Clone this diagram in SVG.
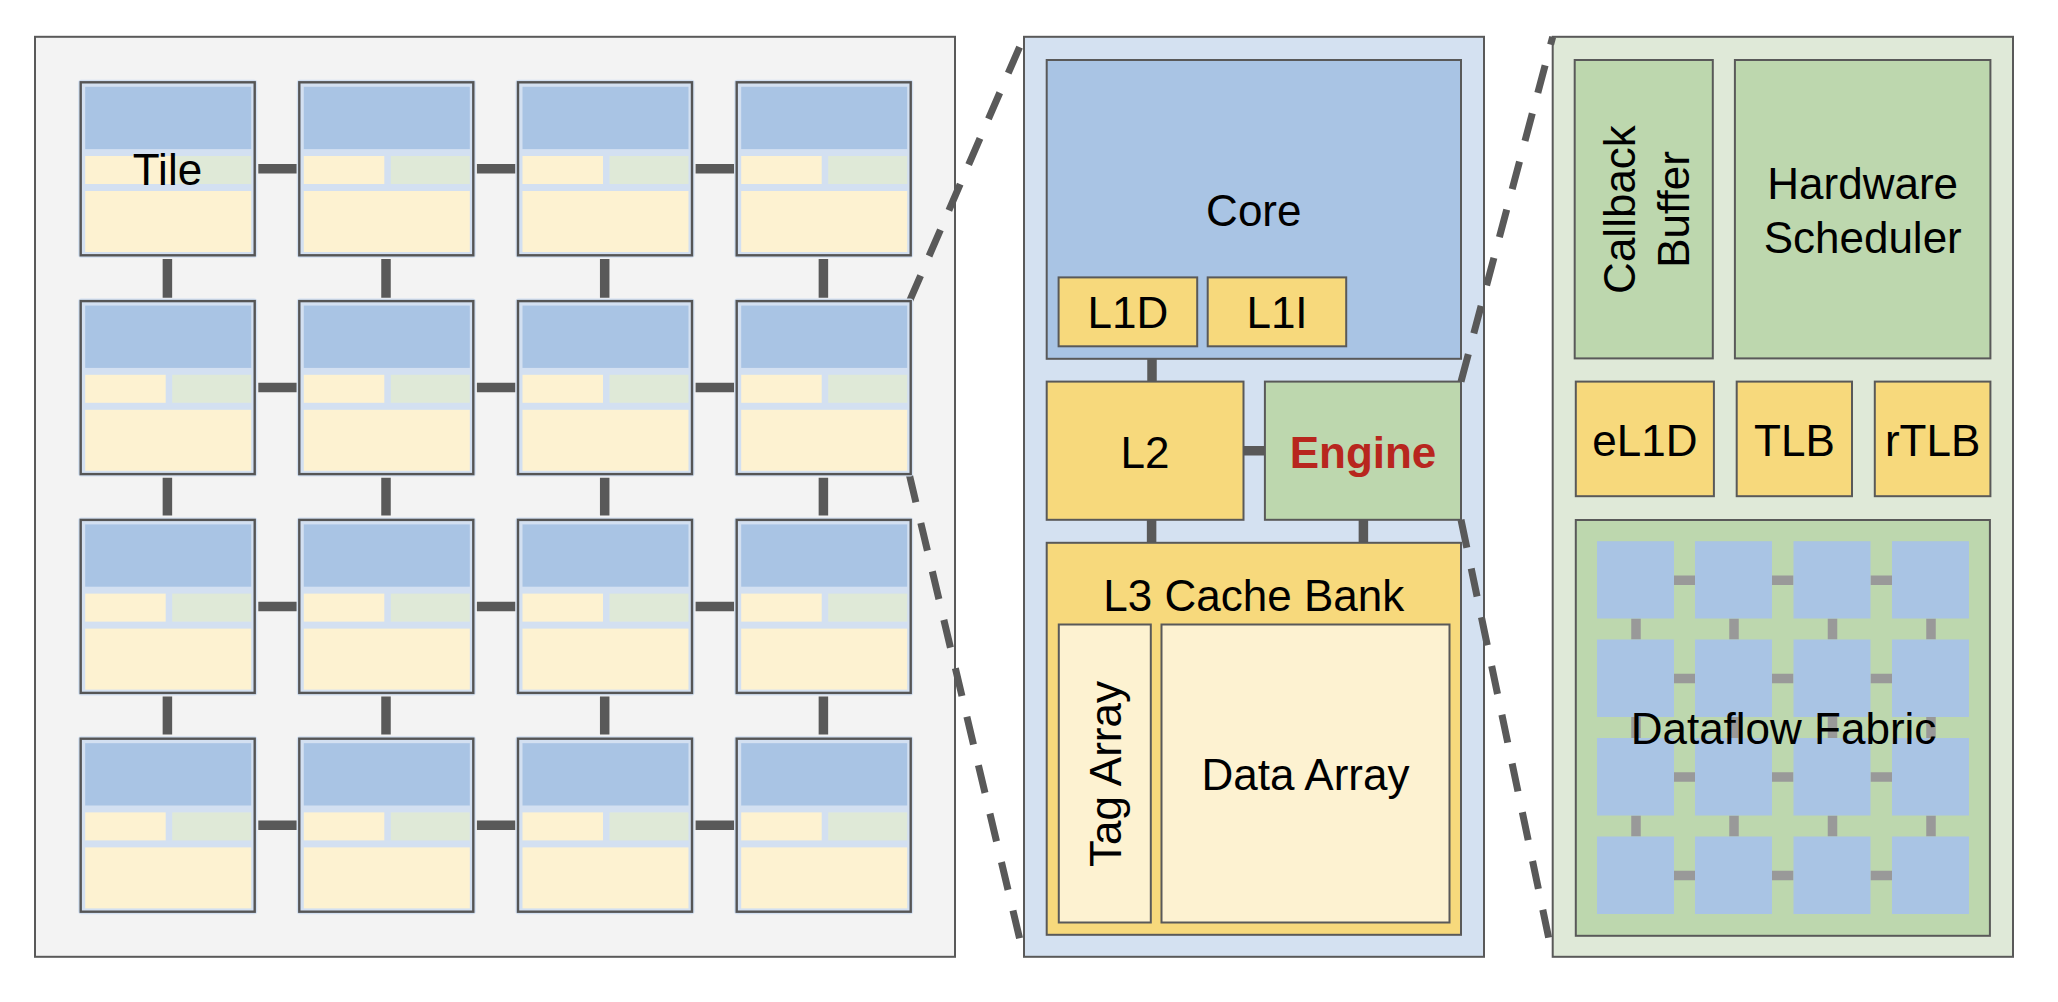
<svg xmlns="http://www.w3.org/2000/svg" xmlns:xlink="http://www.w3.org/1999/xlink" width="2058" height="1002" viewBox="0 0 2058 1002">
<style>
.panel{stroke:#595959;stroke-width:2}
.box{stroke:#595959;stroke-width:2}
.blue{fill:#a9c4e4}
.yel{fill:#f7d97c}
.ltyel{fill:#fdf2d1}
.grn{fill:#bdd7ae}
.lbl{font-family:"Liberation Sans",Arial,Helvetica,sans-serif;font-size:44px;fill:#000;text-anchor:middle}
.eng{font-weight:bold;fill:#b8261e}
.bar{stroke:#595959;stroke-width:9.5;fill:none}
.fbar{stroke:#999999;stroke-width:9.5;fill:none}
.dash{stroke:#595959;stroke-width:7;fill:none;stroke-dasharray:28.5 21.3}
</style>
<defs>
<g id="tile">
<rect x="-2.5" y="-2.5" width="179" height="178" rx="3" fill="#d3e0f1"/>
<rect x="0" y="0" width="174" height="173" fill="#d3e0f1" stroke="#555555" stroke-width="2.4"/>
<rect x="4.5" y="4.5" width="166" height="62.3" fill="#a9c4e4"/>
<rect x="4.5" y="73.7" width="80.5" height="28" fill="#fdf2d1"/>
<rect x="91.5" y="73.7" width="79" height="28" fill="#dfe9d7"/>
<rect x="4.5" y="108.7" width="166" height="61" fill="#fdf2d1"/>
</g>
</defs>
<rect width="2058" height="1002" fill="#ffffff"/>

<g id="panel-grid">
<rect class="panel" x="35" y="36.8" width="920" height="920" fill="#f3f3f3"/>
</g>
<g id="panel-tile">
<rect class="panel" x="1024" y="36.8" width="460" height="920" fill="#d4e1f1"/>
</g>
<g id="panel-engine">
<rect class="panel" x="1552.7" y="36.8" width="460.3" height="920" fill="#dfe9d8"/>
</g>

<g id="connectors">
<g id="mesh-links">
<path class="bar" d="M258.3 168.8H296.7M476.9 168.8H515.4M695.6 168.8H734.1M258.3 387.6H296.7M476.9 387.6H515.4M695.6 387.6H734.1M258.3 606.4H296.7M476.9 606.4H515.4M695.6 606.4H734.1M258.3 825.2H296.7M476.9 825.2H515.4M695.6 825.2H734.1"/>
<path class="bar" d="M167.4 259V297.8M386 259V297.8M604.7 259V297.8M823.4 259V297.8M167.4 477.8V515.6M386 477.8V515.6M604.7 477.8V515.6M823.4 477.8V515.6M167.4 696.6V734.4M386 696.6V734.4M604.7 696.6V734.4M823.4 696.6V734.4"/>
</g>
<g id="tile-links">
<path class="bar" stroke-width="9" d="M1152 358.8V381.6M1243.5 450.8H1264.9M1151.6 519.8V542.8M1363.4 519.8V542.8"/>
</g>
<g id="zoom-lines">
<path class="dash" d="M909.3 301.7L1024 36.8"/>
<path class="dash" d="M909.3 474.5L1024 957"/>
<path class="dash" d="M1461 381.6L1552.7 36.8"/>
<path class="dash" d="M1461 519.8L1552.7 957"/>
</g>
</g>

<g id="tile-r1c1"><use xlink:href="#tile" x="80.7" y="82.3"/><rect x="165" y="156" width="11.5" height="28" fill="#fdf2d1"/><rect x="176.5" y="156" width="4" height="28" fill="#dfe9d7"/><text class="lbl" x="167.5" y="185">Tile</text></g>
<g id="tile-r1c2"><use xlink:href="#tile" x="299.3" y="82.3"/></g>
<g id="tile-r1c3"><use xlink:href="#tile" x="518" y="82.3"/></g>
<g id="tile-r1c4"><use xlink:href="#tile" x="736.7" y="82.3"/></g>
<g id="tile-r2c1"><use xlink:href="#tile" x="80.7" y="301.1"/></g>
<g id="tile-r2c2"><use xlink:href="#tile" x="299.3" y="301.1"/></g>
<g id="tile-r2c3"><use xlink:href="#tile" x="518" y="301.1"/></g>
<g id="tile-r2c4"><use xlink:href="#tile" x="736.7" y="301.1"/></g>
<g id="tile-r3c1"><use xlink:href="#tile" x="80.7" y="519.9"/></g>
<g id="tile-r3c2"><use xlink:href="#tile" x="299.3" y="519.9"/></g>
<g id="tile-r3c3"><use xlink:href="#tile" x="518" y="519.9"/></g>
<g id="tile-r3c4"><use xlink:href="#tile" x="736.7" y="519.9"/></g>
<g id="tile-r4c1"><use xlink:href="#tile" x="80.7" y="738.7"/></g>
<g id="tile-r4c2"><use xlink:href="#tile" x="299.3" y="738.7"/></g>
<g id="tile-r4c3"><use xlink:href="#tile" x="518" y="738.7"/></g>
<g id="tile-r4c4"><use xlink:href="#tile" x="736.7" y="738.7"/></g>

<g id="core">
<rect class="box blue" x="1046.7" y="60" width="414.3" height="298.8"/>
<text class="lbl" x="1253.8" y="226">Core</text>
</g>
<g id="l1d">
<rect class="box yel" x="1058.6" y="277.4" width="138.6" height="68.9"/>
<text class="lbl" x="1127.9" y="327.7">L1D</text>
</g>
<g id="l1i">
<rect class="box yel" x="1207.7" y="277.4" width="138.5" height="68.9"/>
<text class="lbl" x="1277" y="327.7">L1I</text>
</g>
<g id="l2">
<rect class="box yel" x="1046.7" y="381.6" width="196.8" height="138.2"/>
<text class="lbl" x="1145.1" y="467.7">L2</text>
</g>
<g id="engine">
<rect class="box grn" x="1264.9" y="381.6" width="196.1" height="138.2"/>
<text class="lbl eng" x="1363" y="467.7">Engine</text>
</g>
<g id="l3">
<rect class="box yel" x="1046.7" y="542.8" width="414.3" height="392"/>
<text class="lbl" x="1253.8" y="610.5">L3 Cache Bank</text>
</g>
<g id="tag-array">
<rect class="box ltyel" x="1058.8" y="624.5" width="92" height="298"/>
<text class="lbl" transform="translate(1120.5 774) rotate(-90)" x="0" y="0">Tag Array</text>
</g>
<g id="data-array">
<rect class="box ltyel" x="1161.5" y="624.5" width="288" height="298"/>
<text class="lbl" x="1305.5" y="789.5">Data Array</text>
</g>

<g id="callback-buffer">
<rect class="box grn" x="1574.7" y="60" width="138.1" height="298.4"/>
<text class="lbl" transform="translate(1634.8 209.5) rotate(-90)" x="0" y="0">Callback</text>
<text class="lbl" transform="translate(1689.3 209.5) rotate(-90)" x="0" y="0">Buffer</text>
</g>
<g id="hardware-scheduler">
<rect class="box grn" x="1734.9" y="60" width="255.5" height="298.4"/>
<text class="lbl" x="1862.7" y="199.2">Hardware</text>
<text class="lbl" x="1862.7" y="252.8">Scheduler</text>
</g>
<g id="el1d">
<rect class="box yel" x="1575.8" y="381.6" width="138.1" height="114.6"/>
<text class="lbl" x="1644.9" y="456">eL1D</text>
</g>
<g id="tlb">
<rect class="box yel" x="1736.7" y="381.6" width="115.3" height="114.6"/>
<text class="lbl" x="1794.4" y="456">TLB</text>
</g>
<g id="rtlb">
<rect class="box yel" x="1874.8" y="381.6" width="115.6" height="114.6"/>
<text class="lbl" x="1932.6" y="456">rTLB</text>
</g>
<g id="dataflow-fabric">
<rect class="box grn" x="1575.8" y="520" width="414.1" height="415.8"/>
<path class="fbar" d="M1674 580.2H1695M1772 580.2H1793.5M1870.5 580.2H1892M1674 678.6H1695M1772 678.6H1793.5M1870.5 678.6H1892M1674 777H1695M1772 777H1793.5M1870.5 777H1892M1674 875.5H1695M1772 875.5H1793.5M1870.5 875.5H1892"/>
<path class="fbar" d="M1636 618.5V639.5M1734 618.5V639.5M1832.5 618.5V639.5M1931 618.5V639.5M1636 717V738M1734 717V738M1832.5 717V738M1931 717V738M1636 815.5V836.5M1734 815.5V836.5M1832.5 815.5V836.5M1931 815.5V836.5"/>
<g class="blue">
<rect x="1597" y="541.2" width="77" height="77.3"/><rect x="1695" y="541.2" width="77" height="77.3"/><rect x="1793.5" y="541.2" width="77" height="77.3"/><rect x="1892" y="541.2" width="77" height="77.3"/>
<rect x="1597" y="639.5" width="77" height="77.5"/><rect x="1695" y="639.5" width="77" height="77.5"/><rect x="1793.5" y="639.5" width="77" height="77.5"/><rect x="1892" y="639.5" width="77" height="77.5"/>
<rect x="1597" y="738" width="77" height="77.5"/><rect x="1695" y="738" width="77" height="77.5"/><rect x="1793.5" y="738" width="77" height="77.5"/><rect x="1892" y="738" width="77" height="77.5"/>
<rect x="1597" y="836.5" width="77" height="77.5"/><rect x="1695" y="836.5" width="77" height="77.5"/><rect x="1793.5" y="836.5" width="77" height="77.5"/><rect x="1892" y="836.5" width="77" height="77.5"/>
</g>
<text class="lbl" x="1783.5" y="744.3">Dataflow Fabric</text>
</g>
</svg>
